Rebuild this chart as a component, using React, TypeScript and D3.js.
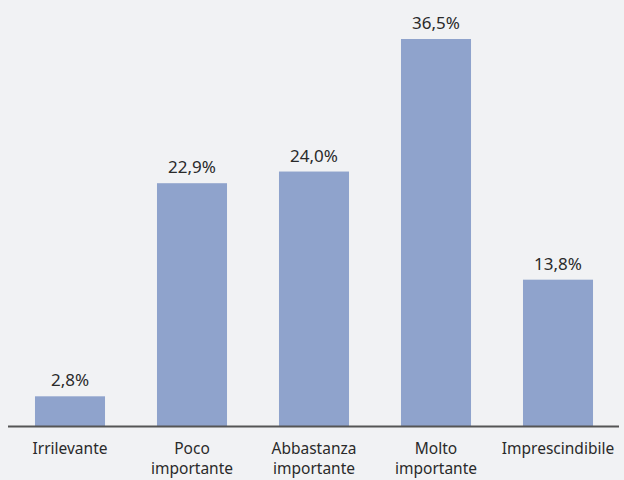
import { useRef, useEffect } from 'react';
import * as d3 from 'd3';

const categories = ['Irrilevante', 'Poco importante', 'Abbastanza importante', 'Molto importante', 'Imprescindibile'];
const categoryLines = [['Irrilevante'], ['Poco', 'importante'], ['Abbastanza', 'importante'], ['Molto', 'importante'], ['Imprescindibile']];
const values = [2.8, 22.9, 24.0, 36.5, 13.8];

export default function App(): JSX.Element {
  const svgRef = useRef<SVGSVGElement | null>(null);
  const width = 624;
  const height = 480;

  useEffect(() => {
    if (!svgRef.current) return;
    const svg = d3.select(svgRef.current);
    svg.selectAll('*').remove();

    const font = "'Noto Sans', 'DejaVu Sans', sans-serif";

    svg.append('rect')
      .attr('width', width)
      .attr('height', height)
      .attr('fill', '#f1f2f4');

    const x = d3.scaleBand<string>()
      .domain(categories)
      .range([9, 619])
      .paddingInner(0.426)
      .paddingOuter(0.213);

    const y = d3.scaleLinear()
      .domain([0, 36.5])
      .range([426, 39]);

    svg.selectAll('rect.bar')
      .data(values)
      .join('rect')
      .attr('class', 'bar')
      .attr('x', (_, i) => x(categories[i]) ?? 0)
      .attr('y', d => y(d))
      .attr('width', x.bandwidth())
      .attr('height', d => y(0) - y(d))
      .attr('fill', '#8fa3cc');

    svg.selectAll('text.val')
      .data(values)
      .join('text')
      .attr('class', 'val')
      .attr('x', (_, i) => (x(categories[i]) ?? 0) + x.bandwidth() / 2)
      .attr('y', d => y(d) - 10)
      .attr('text-anchor', 'middle')
      .attr('font-family', font)
      .attr('font-size', 17)
      .attr('fill', '#2a2a2a')
      .text(d => d.toFixed(1).replace('.', ',') + '%');

    // axis line
    svg.append('line')
      .attr('x1', 8)
      .attr('x2', 619)
      .attr('y1', 426.5)
      .attr('y2', 426.5)
      .attr('stroke', '#555')
      .attr('stroke-width', 2);

    categoryLines.forEach((lines, i) => {
      const cx = (x(categories[i]) ?? 0) + x.bandwidth() / 2;
      lines.forEach((l, j) => {
        svg.append('text')
          .attr('x', cx)
          .attr('y', 454 + j * 20)
          .attr('text-anchor', 'middle')
          .attr('font-family', font)
          .attr('font-size', 15.5)
          .attr('fill', '#2a2a2a')
          .text(l);
      });
    });
  }, []);

  return (
    <svg
      ref={svgRef}
      width={width}
      height={height}
      style={{ position: 'absolute', left: 0, top: 0 }}
    />
  );
}
